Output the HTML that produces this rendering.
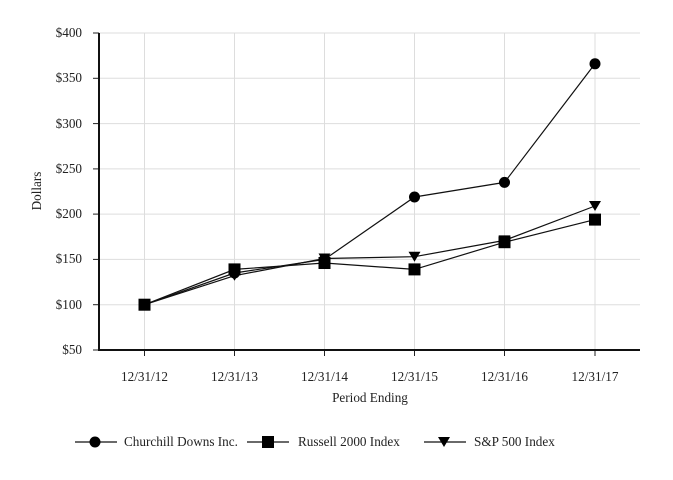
<!DOCTYPE html><html><head><style>body{margin:0;background:#fff}svg{display:block}text{font-family:"Liberation Serif",serif;font-size:13.2px;fill:#222}</style></head><body>
<svg width="673" height="480" viewBox="0 0 673 480">
<g stroke="#ddd" stroke-width="1">
<line x1="99" y1="33" x2="640" y2="33"/><line x1="99" y1="78.3" x2="640" y2="78.3"/><line x1="99" y1="123.6" x2="640" y2="123.6"/><line x1="99" y1="168.9" x2="640" y2="168.9"/><line x1="99" y1="214.1" x2="640" y2="214.1"/><line x1="99" y1="259.4" x2="640" y2="259.4"/><line x1="99" y1="304.7" x2="640" y2="304.7"/>
<line x1="144.5" y1="33" x2="144.5" y2="350"/><line x1="234.5" y1="33" x2="234.5" y2="350"/><line x1="324.5" y1="33" x2="324.5" y2="350"/><line x1="414.5" y1="33" x2="414.5" y2="350"/><line x1="504.5" y1="33" x2="504.5" y2="350"/><line x1="595" y1="33" x2="595" y2="350"/>
</g>
<g stroke="#222" stroke-width="1">
<line x1="93" y1="33" x2="99" y2="33"/><line x1="93" y1="78.3" x2="99" y2="78.3"/><line x1="93" y1="123.6" x2="99" y2="123.6"/><line x1="93" y1="168.9" x2="99" y2="168.9"/><line x1="93" y1="214.1" x2="99" y2="214.1"/><line x1="93" y1="259.4" x2="99" y2="259.4"/><line x1="93" y1="304.7" x2="99" y2="304.7"/><line x1="93" y1="350" x2="99" y2="350"/>
<line x1="144.5" y1="350" x2="144.5" y2="356"/><line x1="234.5" y1="350" x2="234.5" y2="356"/><line x1="324.5" y1="350" x2="324.5" y2="356"/><line x1="414.5" y1="350" x2="414.5" y2="356"/><line x1="504.5" y1="350" x2="504.5" y2="356"/><line x1="595" y1="350" x2="595" y2="356"/>
</g>
<path d="M99 33V350H640" fill="none" stroke="#111" stroke-width="2"/>
<g text-anchor="end"><text x="82" y="37">$400</text><text x="82" y="82">$350</text><text x="82" y="128">$300</text><text x="82" y="173">$250</text><text x="82" y="218">$200</text><text x="82" y="263">$150</text><text x="82" y="309">$100</text><text x="82" y="354">$50</text></g>
<g text-anchor="middle"><text x="144.5" y="381">12/31/12</text><text x="234.5" y="381">12/31/13</text><text x="324.5" y="381">12/31/14</text><text x="414.5" y="381">12/31/15</text><text x="504.5" y="381">12/31/16</text><text x="595" y="381">12/31/17</text>
<text x="370" y="402">Period Ending</text><text transform="translate(41,191) rotate(-90)">Dollars</text></g>
<g fill="none" stroke="#111" stroke-width="1.2">
<polyline points="144.5,304.7 234.5,273 324.5,259.4 414.5,197 504.5,182.4 595,63.8"/>
<polyline points="144.5,304.7 234.5,269.4 324.5,263 414.5,269.4 504.5,242.2 595,219.6"/>
<polyline points="144.5,304.7 234.5,275.7 324.5,258.5 414.5,256.7 504.5,240.4 595,206"/>
</g>
<g fill="#000">
<circle cx="234.5" cy="273" r="5.5"/><circle cx="324.5" cy="259.4" r="5.5"/><circle cx="414.5" cy="197" r="5.5"/><circle cx="504.5" cy="182.4" r="5.5"/><circle cx="595" cy="63.8" r="5.5"/>
<path d="M228.5 270.7h12l-6 10z M318.5 253.5h12l-6 10z M408.5 251.7h12l-6 10z M498.5 235.4h12l-6 10z M589 201h12l-6 10z"/>
<rect x="138.5" y="298.7" width="12" height="12"/><rect x="228.5" y="263.4" width="12" height="12"/><rect x="318.5" y="257" width="12" height="12"/><rect x="408.5" y="263.4" width="12" height="12"/><rect x="498.5" y="236.2" width="12" height="12"/><rect x="589" y="213.6" width="12" height="12"/>
</g>
<g stroke="#111" stroke-width="1.2"><line x1="75" y1="442" x2="117" y2="442"/><line x1="247" y1="442" x2="289" y2="442"/><line x1="424" y1="442" x2="466" y2="442"/></g>
<circle cx="95" cy="442" r="5.5"/><rect x="262" y="436" width="12" height="12"/><path d="M438 437h12l-6 10z"/>
<text x="124" y="446">Churchill Downs Inc.</text><text x="298" y="446">Russell 2000 Index</text><text x="474" y="446">S&amp;P 500 Index</text>
</svg></body></html>
